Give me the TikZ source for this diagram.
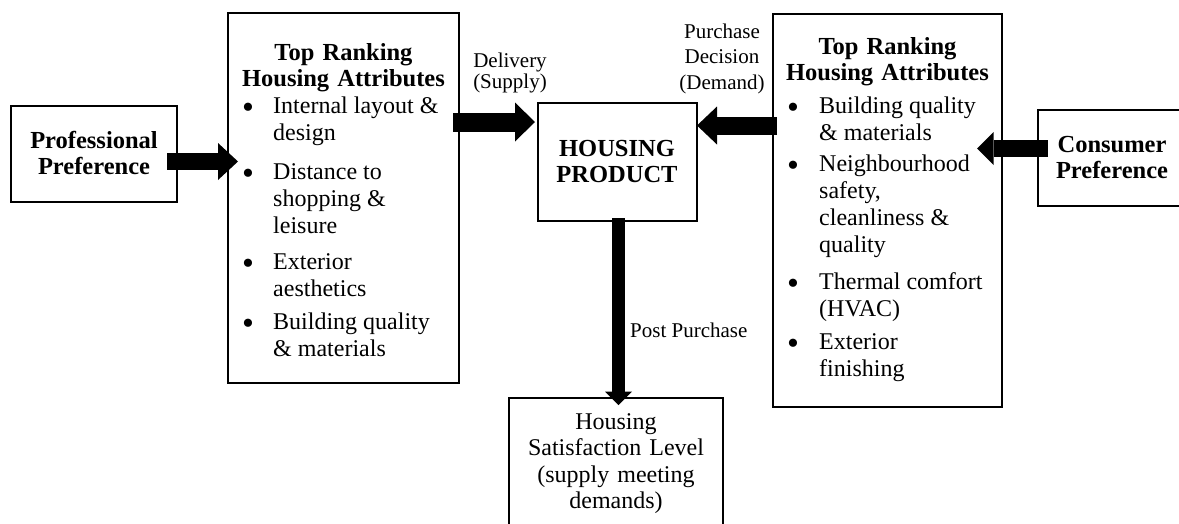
\documentclass[tikz,border=0pt]{standalone}
\usepackage{fontspec}
\setmainfont{Liberation Serif}
\usetikzlibrary{arrows.meta,calc}
\begin{document}
\begin{tikzpicture}[x=1pt,y=-1pt,
  box/.style={draw, line width=1.2pt, rectangle, inner sep=0pt, outer sep=0pt, anchor=north west},
  txt/.style={inner sep=0pt, font=\fontsize{24}{27}\selectfont, anchor=base west},
  bul/.style={inner sep=0pt, font=\fontsize{34}{34}\selectfont, anchor=base, yshift=-4.5pt},
  ctxt/.style={inner sep=0pt, anchor=base, align=center, text width=#1},
  head/.style={ctxt=#1, font=\fontsize{24.5}{26}\selectfont\bfseries},
  lbl/.style={inner sep=0pt, anchor=base, align=center, text width=#1},
]
\useasboundingbox (0,0) rectangle (1179,523);

% ---- boxes ----
\node[box, minimum width=166, minimum height=96]  (prof) at (11,106) {};
\node[box, minimum width=231, minimum height=370] (lbox) at (228,13) {};
\node[box, minimum width=159, minimum height=118] (prod) at (538,103) {};
\node[box, minimum width=229, minimum height=393] (rbox) at (773,14) {};
\node[box, minimum width=152, minimum height=96]  (cbox) at (1038,110) {};
\node[box, minimum width=214, minimum height=142] (sat)  at (509,398) {};

% ---- box texts ----
\node[head=160] (proft) at (94,148) {Professional\\Preference};
\node[head=160] (prodt) at (617,156) {HOUSING\\PRODUCT};
\node[head=150] (cboxt) at (1112,152) {Consumer\\Preference};
\node[ctxt=214, font=\fontsize{24}{26.5}\selectfont] (satt) at (616,429)
  {Housing\\Satisfaction Level\\(supply meeting\\demands)};

\node[head=230] (ltitle) at (343.5,60) {Top Ranking\\Housing Attributes};
\node[head=228] (rtitle) at (887.5,54) {Top Ranking\\Housing Attributes};

% left list
\foreach \yy [count=\i] in {113.5,179.5,269.5,329.5}
  \node[bul] (lb\i) at (248,\yy) {\textbullet};
\foreach \yy/\lbltext [count=\i] in {113.5/{Internal layout \&}, 140.5/design,
    179.5/{Distance to}, 206.5/{shopping \&}, 233.5/leisure,
    269.5/Exterior, 296.5/aesthetics, 329.5/{Building quality}, 356.5/{\& materials}}
  \node[txt] (la\i) at (273,\yy) {\lbltext};

% right list
\foreach \yy [count=\i] in {113.5,171.5,289.5,349.5}
  \node[bul] (rb\i) at (793,\yy) {\textbullet};
\foreach \yy/\lbltext [count=\i] in {113.5/{Building quality}, 140.5/{\& materials},
    171.5/Neighbourhood, 198.5/{safety,}, 225.5/{cleanliness \&}, 252.5/quality,
    289.5/{Thermal comfort}, 316.5/(HVAC), 349.5/Exterior, 376.5/finishing}
  \node[txt] (ra\i) at (819,\yy) {\lbltext};

% ---- connector labels ----
\node[lbl=100, font=\fontsize{21}{21}\selectfont] (dlab) at (510,67) {Delivery\\(Supply)};
\node[lbl=100, font=\fontsize{21}{25.5}\selectfont] (plab) at (722,38) {Purchase\\Decision\\(Demand)};
\node[inner sep=0pt, anchor=base west, font=\fontsize{21}{21}\selectfont] (pplab) at (630,337) {Post Purchase};

% ---- block arrows ----
\coordinate (p1) at ($(prof.east)+(-10,7.5)$);
\coordinate (p2) at ($(p1 -| lbox.west)+(10,0)$);
\draw[line width=17pt, -{Triangle[width=37pt,length=20pt,line width=0pt]}] (p1) -- (p2);

\coordinate (d2) at ($(prod.west)+(-3,-40)$);
\coordinate (d1) at ($(d2 -| lbox.east)+(-6,0)$);
\draw[line width=19pt, -{Triangle[width=39pt,length=20pt,line width=0pt]}] (d1) -- (d2);

\coordinate (q2) at ($(prod.east)+(0,-36.5)$);
\coordinate (q1) at ($(q2 -| rbox.west)+(4,0)$);
\draw[line width=18pt, -{Triangle[width=38pt,length=20pt,line width=0pt]}] (q1) -- (q2);

\coordinate (c1) at ($(cbox.west)+(10,-9.5)$);
\coordinate (c2) at ($(c1 -| rbox.east)+(-25,0)$);
\draw[line width=17pt, -{Triangle[width=33pt,length=16.5pt,line width=0pt]}] (c1) -- (c2);

\coordinate (s1) at ($(prod.south)+(1,-3)$);
\coordinate (s2) at ($(s1 |- sat.north)+(0,7)$);
\draw[line width=13.3pt, -{Triangle[width=27pt,length=13.3pt,line width=0pt]}] (s1) -- (s2);
\end{tikzpicture}
\end{document}
